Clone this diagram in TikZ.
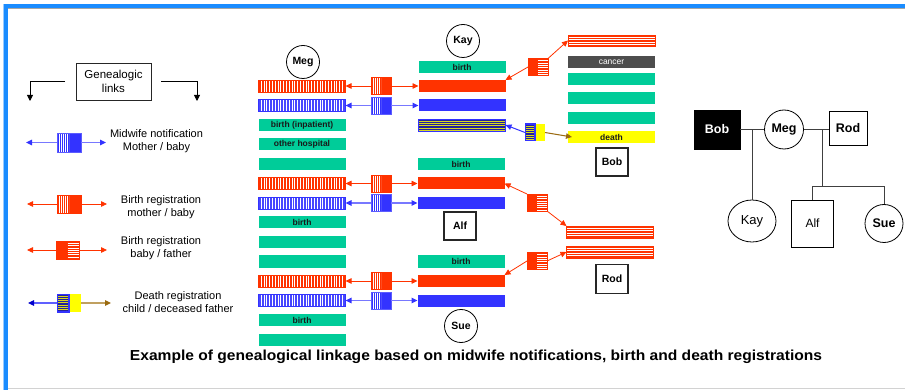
\documentclass[tikz,border=0pt]{standalone}
\usepackage{fontspec}
\setmainfont{Liberation Sans}
\usetikzlibrary{arrows.meta,shapes.geometric}
\definecolor{fgreen}{HTML}{00CC99}
\definecolor{fred}{HTML}{FF3300}
\definecolor{fblue}{HTML}{3333FF}
\definecolor{lblue}{HTML}{7878FF}
\definecolor{dblue}{HTML}{22229A}
\definecolor{dyel}{HTML}{D8D820}
\definecolor{fyellow}{HTML}{FFFF00}
\definecolor{fbrown}{HTML}{9A6A10}
\definecolor{ftan}{HTML}{C0A060}
\definecolor{fgray}{HTML}{4D4D4D}
\definecolor{frameblue}{HTML}{1A8CFF}
\definecolor{pedline}{HTML}{404040}
\pgfdeclarelayer{bg}
\pgfsetlayers{bg,main}
\tikzset{
  bar/.style={rectangle, minimum width=87pt, minimum height=12pt, inner sep=0pt, outer sep=0pt,
    font=\fontsize{8.5}{9}\selectfont\bfseries, text=black!90},
  gbar/.style={bar, fill=fgreen},
  rbar/.style={bar, fill=fred},
  bbar/.style={bar, fill=fblue},
  vstr/.style={path picture={\foreach \k in {1,...,35}{\draw[white,line width=1pt]
      ([xshift=\k*2.8pt]path picture bounding box.south west) -- ([xshift=\k*2.8pt]path picture bounding box.north west);}}},
  hstr/.style={path picture={\foreach \k in {1,...,5}{\draw[white,line width=0.9pt]
      ([yshift=-\k*2.4pt]path picture bounding box.north west) -- ([yshift=-\k*2.4pt]path picture bounding box.north east);}}},
  rvbar/.style={bar, fill=fred, draw=fred, line width=0.6pt, vstr},
  bvbar/.style={bar, fill=fblue!90, draw=fblue, line width=0.6pt, vstr},
  rhbar/.style={bar, fill=fred, draw=fred, line width=0.6pt, hstr},
  dbar/.style={bar, fill=dblue, draw=fblue, line width=0.8pt,
    path picture={\foreach \k in {1,...,5}{\draw[dyel,line width=0.9pt]
      ([yshift=-\k*2.3pt]path picture bounding box.north west) -- ([yshift=-\k*2.3pt]path picture bounding box.north east);}}},
  lnk/.style={rectangle, minimum width=20pt, minimum height=17pt, inner sep=0pt, outer sep=0pt},
  lvleft/.style={path picture={\clip (path picture bounding box.south west) rectangle (path picture bounding box.north);
      \foreach \k in {1,...,6}{\draw[white,line width=0.7pt]
      ([xshift=\k*2pt]path picture bounding box.south west) -- ([xshift=\k*2pt]path picture bounding box.north west);}}},
  lmb/.style={lnk, fill=fred, draw=fred, line width=0.6pt, lvleft},
  lmw/.style={lnk, fill=fblue, draw=fblue!80, line width=0.6pt, lvleft},
  lbf/.style={lnk, fill=fred, draw=fred, line width=0.6pt,
    path picture={\clip (path picture bounding box.south) rectangle (path picture bounding box.north east);
      \foreach \k in {1,...,8}{\draw[white,line width=0.7pt]
      ([yshift=-\k*2.3pt]path picture bounding box.north) -- ([yshift=-\k*2.3pt]path picture bounding box.north east);}}},
  ldeath/.style={lnk, fill=fyellow,
    path picture={\fill[dblue] (path picture bounding box.south west) rectangle (path picture bounding box.north);
      \begin{scope}
      \clip (path picture bounding box.south west) rectangle (path picture bounding box.north);
      \foreach \k in {1,...,9}{\draw[dyel,line width=0.8pt]
      ([yshift=-\k*2.2pt]path picture bounding box.north west) -- ([yshift=-\k*2.2pt]path picture bounding box.north);}
      \end{scope}
      \draw[fblue,line width=1.2pt] (path picture bounding box.south west) rectangle (path picture bounding box.north);}},
  ra/.style={draw=fred, line width=0.8pt, -{Triangle[length=6pt,width=5.5pt]}},
  ba/.style={draw=lblue, line width=1.3pt, -{Triangle[length=6pt,width=5.5pt,color=fblue]}},
  dka/.style={draw=fblue, line width=1pt, -{Triangle[length=6pt,width=5.5pt]}},
  bra/.style={draw=fbrown, line width=1pt, -{Triangle[length=6pt,width=5.5pt]}},
  spine/.style={line width=5pt, black},
  circ/.style={circle, draw, line width=0.8pt, minimum size=33pt, inner sep=0pt, font=\fontsize{10.5}{11}\selectfont\bfseries},
  nbox/.style={rectangle, draw=black!85, line width=1.1pt, minimum width=32pt, minimum height=28pt, inner sep=0pt, font=\fontsize{10.5}{11}\selectfont\bfseries},
  legtext/.style={align=center, inner sep=0pt, font=\fontsize{11}{13.5}\selectfont},
  ped/.style={draw=pedline, line width=0.8pt},
  pnode/.style={draw=black, line width=0.8pt, inner sep=0pt, font=\fontsize{12.5}{13}\selectfont\bfseries},
}
\begin{document}
\begin{tikzpicture}[x=1pt,y=-1pt]
\useasboundingbox (0,0) rectangle (905,390);
\fill[white] (0,0) rectangle (905,390);
% window frame
\fill[frameblue!45] (3,4) rectangle (4,390);
\fill[frameblue] (4,4) rectangle (905,8);
\fill[frameblue] (4,4) rectangle (8,390);
\draw[gray!70, line width=1pt] (8,8.5) -- (905,8.5);
\draw[gray!35, line width=1pt] (8,388.5) -- (905,388.5);

% ---------- legend ----------
\node[draw=black!85, line width=0.9pt, minimum width=75pt, minimum height=37pt, inner sep=0pt,
      align=center, font=\fontsize{11.5}{13.5}\selectfont] (glinks) at (113.5,81.5) {Genealogic\\links};
\coordinate (gla) at (65,81.5);
\coordinate (glb) at (30,81.5);
\coordinate (glc) at (30,101);
\coordinate (gra) at (161,81.5);
\coordinate (grb) at (197,81.5);
\coordinate (grc) at (197,101);
\draw[line width=0.9pt, -{Triangle[length=6pt,width=6pt]}] (gla) -- (glb) -- (glc);
\draw[line width=0.9pt, -{Triangle[length=6pt,width=6pt]}] (gra) -- (grb) -- (grc);

\node[lmw, minimum width=24pt, minimum height=19pt] (lg1) at (69,142.5) {};
\coordinate (lg1l) at (26,142.5);
\coordinate (lg1r) at (106,142.5);
\draw[ba] (lg1.west) -- (lg1l);
\draw[ba] (lg1.east) -- (lg1r);
\node[legtext] (t1) at (156.5,141) {Midwife notification\\Mother / baby};

\node[lmb, minimum width=24pt, minimum height=18pt] (lg2) at (69,204) {};
\coordinate (lg2l) at (27,204);
\coordinate (lg2r) at (107,204);
\draw[ra] (lg2.west) -- (lg2l);
\draw[ra] (lg2.east) -- (lg2r);
\node[legtext] (t2) at (161,207) {Birth registration\\mother / baby};

\node[lbf, minimum width=23pt, minimum height=18pt] (lg3) at (67.5,250) {};
\coordinate (lg3l) at (27,250);
\coordinate (lg3r) at (107,250);
\draw[ra] (lg3.west) -- (lg3l);
\draw[ra] (lg3.east) -- (lg3r);
\node[legtext] (t3) at (161,248) {Birth registration\\baby / father};

\node[ldeath, minimum width=24pt, minimum height=18pt] (lg4) at (69,303) {};
\coordinate (lg4l) at (28,303);
\coordinate (lg4r) at (111,303);
\draw[draw=lblue!80!blue, line width=1.2pt, -{Triangle[length=6pt,width=5.5pt,color=blue!80!black]}] (lg4.west) -- (lg4l);
\draw[draw=ftan, line width=1.2pt, -{Triangle[length=6pt,width=5.5pt,color=fbrown]}] (lg4.east) -- (lg4r);
\node[legtext] (t4) at (178,302) {Death registration\\child / deceased father};

% ---------- Meg ----------
\node[circ] (megC) at (303,62) {Meg};
\node[rvbar] (m0) at (302,86) {};
\node[bvbar] (m1) at (302,105.5) {};
\node[gbar] (m2) at (302,125) {birth (inpatient)};
\node[gbar] (m3) at (302,144.5) {other hospital};
\node[gbar] (m4) at (302,164) {};
\node[rvbar] (m5) at (302,183.5) {};
\node[bvbar] (m6) at (302,203) {};
\node[gbar] (m7) at (302,222.5) {birth};
\node[gbar] (m8) at (302,242) {};
\node[gbar] (m9) at (302,261.5) {};
\node[rvbar] (m10) at (302,281) {};
\node[bvbar] (m11) at (302,300.5) {};
\node[gbar] (m12) at (302,320) {birth};
\node[gbar] (m13) at (302,339.5) {};

% ---------- Kay ----------
\node[circ] (kayC) at (463,41) {Kay};
\node[gbar] (k0) at (462,67) {birth};
\node[rbar] (k1) at (462,86) {};
\node[bbar] (k2) at (462,105.5) {};
\node[dbar] (k3) at (462,125) {};

% ---------- Alf ----------
\node[gbar] (a0) at (461,164) {birth};
\node[rbar] (a1) at (461,183.5) {};
\node[bbar] (a2) at (461,203) {};
\node[nbox] (alfB) at (460,226) {Alf};

% ---------- Sue ----------
\node[gbar] (s0) at (461,261.5) {birth};
\node[rbar] (s1) at (461,281) {};
\node[bbar] (s2) at (461,300.5) {};
\node[circ] (sueC) at (461,326) {Sue};

% ---------- Bob ----------
\node[rhbar, minimum height=11pt] (b0) at (611.5,40.5) {};
\node[bar, fill=fgray, text=white, font=\fontsize{8.5}{9}\selectfont] (b1) at (611.5,62) {cancer};
\node[gbar] (b2) at (611.5,79) {};
\node[gbar] (b3) at (611.5,98.5) {};
\node[gbar] (b4) at (611.5,118.5) {};
\node[bar, fill=fyellow] (b5) at (611.5,137) {death};
\node[nbox] (bobB) at (612,162) {Bob};

% ---------- Rod ----------
\node[rhbar] (r0) at (610,232) {};
\node[rhbar] (r1) at (610,252) {};
\node[nbox, minimum height=29pt] (rodB) at (612,279) {Rod};

% spines
\begin{pgfonlayer}{bg}
\draw[spine] (m0.center) -- (m13.center);
\draw[spine] (k0.center) -- (k3.center);
\draw[spine] (a0.center) -- (a2.center);
\draw[spine] (s0.center) -- (s2.center);
\draw[spine] (b0.center) -- (b5.center);
\draw[spine] (r0.center) -- (r1.center);
\end{pgfonlayer}

% ---------- link boxes Meg -> children ----------
\node[lmb] (L1) at (381,86) {};
\node[lmw] (L2) at (381,105.5) {};
\node[lmb] (L3) at (381,183.5) {};
\node[lmw] (L4) at (381,203) {};
\node[lmb] (L5) at (381,281) {};
\node[lmw] (L6) at (381,300.5) {};
\draw[ra] (L1.west) -- (m0.east);
\draw[ra] (L1.east) -- (k1.west);
\draw[ba] (L2.west) -- (m1.east);
\draw[ba] (L2.east) -- (k2.west);
\draw[ra] (L3.west) -- (m5.east);
\draw[ra] (L3.east) -- (a1.west);
\draw[ba] (L4.west) -- (m6.east);
\draw[ba] (L4.east) -- (a2.west);
\draw[ra] (L5.west) -- (m10.east);
\draw[ra] (L5.east) -- (s1.west);
\draw[ba] (L6.west) -- (m11.east);
\draw[ba] (L6.east) -- (s2.west);

% ---------- link boxes to fathers ----------
\node[lbf] (L7) at (538,67) {};
\draw[ra] (L7.west) -- (k1.north east);
\draw[ra] (L7.north east) -- (b0.west);
\node[ldeath] (L8) at (535,132.5) {};
\draw[dka] (L8.west) -- (k3.east);
\draw[bra] (L8.east) -- ([xshift=4pt]b5.west);
\node[lbf] (L9) at (537,202.5) {};
\draw[ra] (L9.north west) -- (a1.east);
\draw[ra] (L9.south east) -- (r0.north west);
\node[lbf] (L10) at (537,261) {};
\draw[ra] (L10.west) -- (s1.north east);
\draw[ra] (L10.east) -- (r1.west);

% ---------- pedigree ----------
\node[pnode, rectangle, fill=black, text=white, minimum width=46pt, minimum height=39pt] (pBob) at (717,129.5) {Bob};
\node[pnode, circle, minimum size=39pt] (pMeg) at (784,129.5) {Meg};
\node[pnode, rectangle, minimum width=38pt, minimum height=34pt] (pRod) at (848,128) {Rod};
\node[pnode, ellipse, minimum width=48pt, minimum height=42pt, font=\fontsize{13}{14}\selectfont] (pKay) at (752,221) {Kay};
\node[pnode, rectangle, minimum width=42pt, minimum height=47pt, font=\fontsize{12}{13}\selectfont] (pAlf) at (812.5,223.5) {Alf};
\node[pnode, circle, minimum size=38pt] (pSue) at (884,223.5) {Sue};
\draw[ped] (pBob.east) -- (pMeg.west);
\draw[ped] (pMeg.east) -- (pMeg.east -| pRod.west);
\coordinate (kc) at (pKay.north |- pMeg.west);
\draw[ped] (kc) -- (pKay.north);
\coordinate (rc) at (822,129.5);
\coordinate (sb) at (822,186);
\draw[ped] (rc) -- (sb);
\draw[ped] (pAlf.north) -- (pAlf.north |- sb) -- (pSue.north |- sb) -- (pSue.north);

% ---------- caption ----------
\node[inner sep=0pt, font=\fontsize{14.5}{16}\selectfont\bfseries] (cap) at (476,357)
  {\scalebox{1.075}[1]{Example of genealogical linkage based on midwife notifications, birth and death registrations}};
\end{tikzpicture}
\end{document}
